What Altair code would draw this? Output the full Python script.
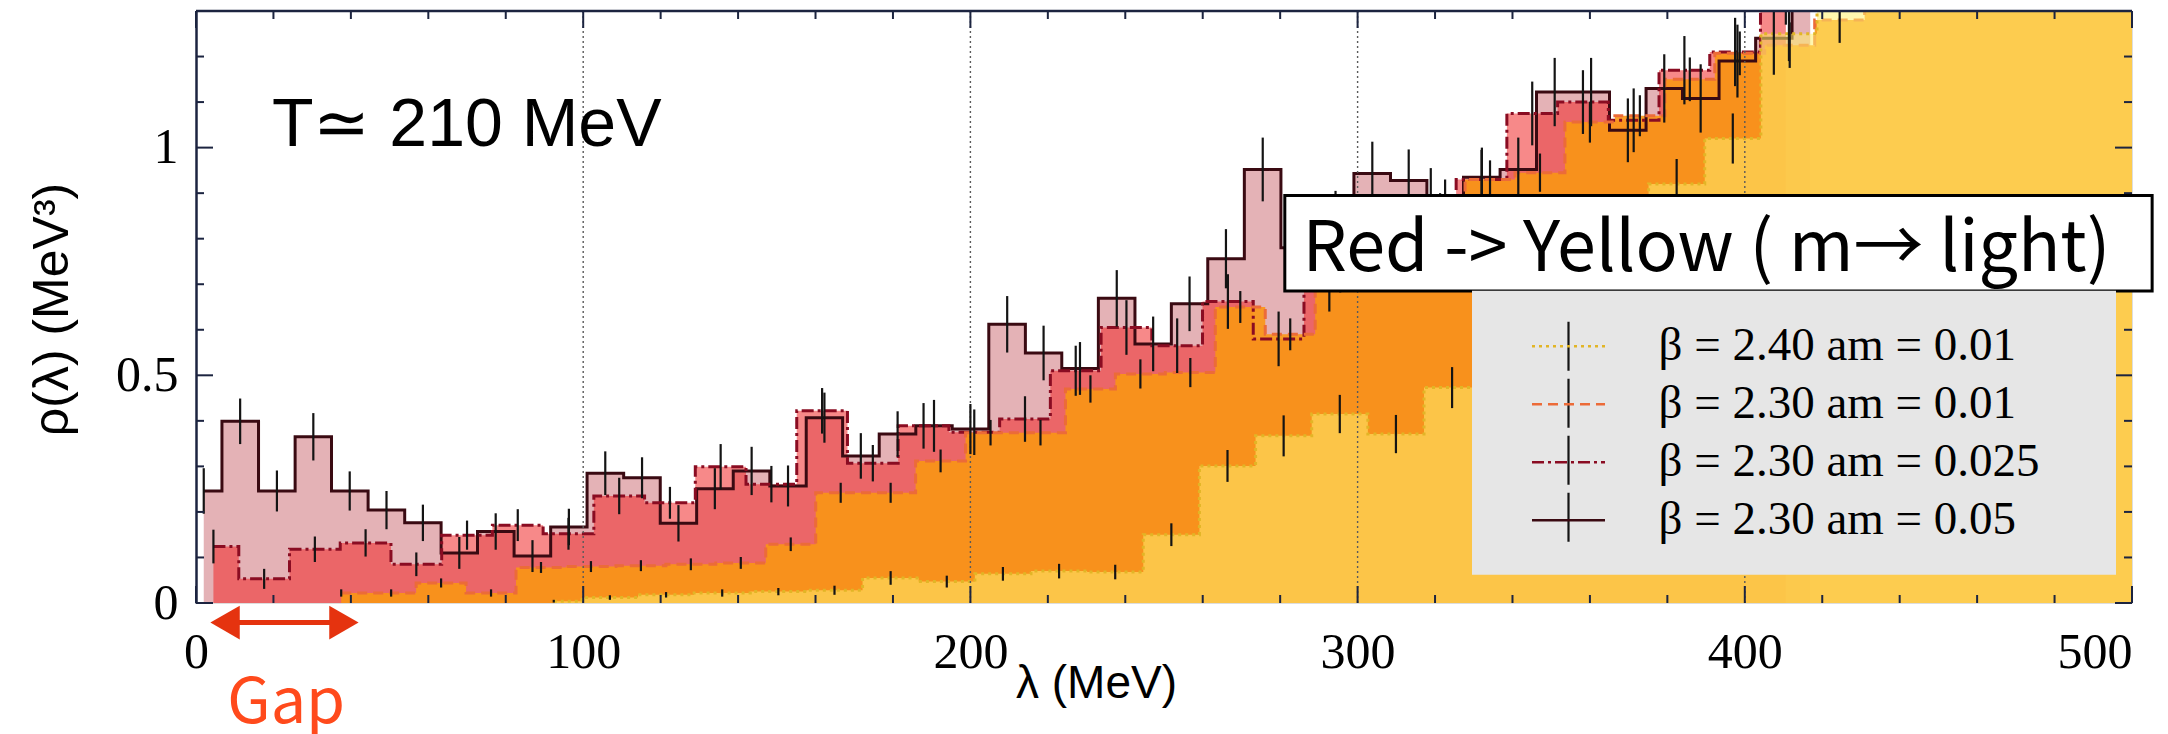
import altair as alt
import pandas as pd

# Eigenvalue density rho(lambda) at T ~ 210 MeV for four ensembles.
SERIES = [
    "β = 2.40 am = 0.01",
    "β = 2.30 am = 0.01",
    "β = 2.30 am = 0.025",
    "β = 2.30 am = 0.05",
]

# beta = 2.30, am = 0.05
PINK_X = [2.0, 11.4, 20.9, 30.3, 39.7, 49.2, 58.6, 68.0, 77.4, 86.9,
          96.3, 105.7, 115.2, 124.6, 134.0, 143.5, 152.9, 162.3, 171.7, 181.2,
          190.6, 200.0, 209.5, 218.9, 228.3, 237.8, 247.2, 256.6, 266.0, 275.5,
          284.9, 294.3, 303.8, 313.2, 322.6, 332.1, 341.5, 350.9, 360.3, 369.8,
          379.2, 388.6, 398.1, 407.5, 416.9]
PINK_RHO = [0.246, 0.399, 0.246, 0.365, 0.246, 0.204, 0.176, 0.110, 0.157, 0.103,
            0.167, 0.285, 0.275, 0.175, 0.251, 0.290, 0.257, 0.407, 0.323, 0.371,
            0.389, 0.382, 0.612, 0.549, 0.515, 0.669, 0.569, 0.657, 0.756, 0.952,
            0.780, 0.840, 0.943, 0.928, 0.870, 0.935, 0.952, 1.122, 1.122, 1.038,
            1.130, 1.108, 1.190, 1.240, 1.400]
PINK_ERR = [0.050, 0.050, 0.045, 0.052, 0.043, 0.042, 0.040, 0.035, 0.040, 0.035,
            0.040, 0.048, 0.045, 0.040, 0.045, 0.053, 0.045, 0.055, 0.050, 0.050,
            0.057, 0.055, 0.062, 0.060, 0.058, 0.062, 0.060, 0.060, 0.065, 0.070,
            0.065, 0.065, 0.070, 0.068, 0.060, 0.065, 0.070, 0.075, 0.075, 0.070,
            0.075, 0.075, 0.080, 0.080, 0.080]

# beta = 2.30, am = 0.025
RED_X = [4.5, 17.6, 30.7, 43.8, 56.9, 70.0, 83.1, 96.2, 109.3, 122.4,
         135.5, 148.6, 161.7, 174.8, 187.9, 201.0, 214.1, 227.2, 240.3, 253.4,
         266.5, 279.6, 292.7, 305.8, 318.9, 332.0, 345.1, 358.2, 371.3, 384.4,
         397.5, 410.6]
RED_RHO = [0.124, 0.053, 0.118, 0.132, 0.085, 0.149, 0.171, 0.152, 0.235, 0.220,
           0.299, 0.261, 0.422, 0.307, 0.389, 0.375, 0.404, 0.510, 0.605, 0.565,
           0.662, 0.580, 0.700, 0.750, 0.890, 0.930, 1.075, 1.100, 1.060, 1.170,
           1.210, 1.350]
RED_ERR = [0.037, 0.022, 0.028, 0.030, 0.026, 0.032, 0.035, 0.035, 0.040, 0.035,
           0.050, 0.040, 0.050, 0.040, 0.050, 0.050, 0.050, 0.055, 0.060, 0.060,
           0.060, 0.060, 0.060, 0.062, 0.065, 0.065, 0.070, 0.070, 0.070, 0.075,
           0.075, 0.080]

# beta = 2.30, am = 0.01
ORANGE_X = [37.5, 50.4, 63.3, 76.2, 89.1, 102.0, 114.9, 127.8, 140.7, 153.6,
            166.5, 179.4, 192.3, 205.2, 218.1, 231.0, 243.9, 256.8, 269.7, 282.6,
            295.5, 308.4, 321.3, 334.2, 347.1, 360.0, 372.9, 385.8, 398.7, 411.6,
            424.5, 437.4, 450.3, 463.2, 476.1, 489.0, 500.0]
ORANGE_RHO = [0.022, 0.022, 0.044, 0.022, 0.078, 0.080, 0.082, 0.085, 0.088, 0.129,
              0.242, 0.242, 0.312, 0.374, 0.374, 0.470, 0.503, 0.506, 0.650, 0.590,
              0.720, 0.800, 0.860, 0.930, 0.945, 1.056, 1.070, 1.150, 1.207, 1.225,
              1.280, 1.600, 1.600, 1.600, 1.600, 1.600, 1.600]
ORANGE_ERR = [0.008, 0.008, 0.010, 0.008, 0.012, 0.012, 0.012, 0.013, 0.013, 0.015,
              0.022, 0.022, 0.025, 0.028, 0.028, 0.030, 0.032, 0.032, 0.035, 0.035,
              0.038, 0.040, 0.040, 0.042, 0.042, 0.045, 0.045, 0.048, 0.048, 0.050,
              0.050, 0.050, 0.050, 0.050, 0.050, 0.050, 0.050]

# beta = 2.40, am = 0.01
YELLOW_X = [92.4, 106.9, 121.4, 135.9, 150.4, 164.9, 179.4, 193.9, 208.4, 222.9,
            237.4, 251.9, 266.4, 280.9, 295.4, 309.9, 324.4, 338.9, 353.4, 367.9,
            382.4, 396.9, 411.4, 425.9, 440.4, 454.9, 469.4, 483.9, 498.4, 500.0]
YELLOW_RHO = [0.004, 0.012, 0.018, 0.022, 0.025, 0.028, 0.055, 0.047, 0.064, 0.070,
              0.068, 0.150, 0.301, 0.367, 0.415, 0.371, 0.473, 0.600, 0.700, 0.800,
              0.920, 1.020, 1.250, 1.600, 1.600, 1.600, 1.600, 1.600, 1.600, 1.600]
YELLOW_ERR = [0.003, 0.005, 0.006, 0.008, 0.008, 0.010, 0.015, 0.013, 0.015, 0.016,
              0.016, 0.025, 0.035, 0.045, 0.042, 0.042, 0.045, 0.050, 0.050, 0.050,
              0.055, 0.055, 0.060, 0.060, 0.060, 0.060, 0.060, 0.060, 0.060, 0.060]

X_MAJOR = [0, 100, 200, 300, 400, 500]
X_MINOR = [20, 40, 60, 80, 120, 140, 160, 180, 220, 240, 260, 280,
           320, 340, 360, 380, 420, 440, 460, 480]
Y_MAJOR = [0, 0.5, 1.0]
Y_MINOR = [0.1, 0.2, 0.3, 0.4, 0.6, 0.7, 0.8, 0.9, 1.1, 1.2]
GRID_X = [100, 200, 300, 400]

# styles
LINE_COLORS = ["#e2b526", "#ec6b38", "#8a0c22", "#3a0a12"]
LINE_DASHES = [[3, 4], [10, 6], [12, 4, 3, 4], [1, 0]]
FILL = {
    SERIES[0]: ("#fff06e", 0.55),
    SERIES[1]: ("#fa9614", 0.90),
    SERIES[2]: ("#f02828", 0.55),
    SERIES[3]: ("#a5000c", 0.30),
}
W, H = 1936, 592
FRAME = "#1c2440"
SERIF = "Liberation Serif"
SANS = "Liberation Sans"

frames = []
for name, xs_, ys_, es_ in [
    (SERIES[3], PINK_X, PINK_RHO, PINK_ERR),
    (SERIES[2], RED_X, RED_RHO, RED_ERR),
    (SERIES[1], ORANGE_X, ORANGE_RHO, ORANGE_ERR),
    (SERIES[0], YELLOW_X, YELLOW_RHO, YELLOW_ERR),
]:
    frames.append(pd.DataFrame({"series": name, "lam": xs_, "rho": ys_, "err": es_}))
df = pd.concat(frames, ignore_index=True)
df["lo"] = df["rho"] - df["err"]
df["hi"] = df["rho"] + df["err"]

xscale = alt.Scale(domain=[0, 500], nice=False, zero=False)
yscale = alt.Scale(domain=[0, 1.3], nice=False, zero=False)

x_axis = alt.Axis(
    values=X_MAJOR, format="d", domain=False, ticks=False, tickSize=0, grid=False,
    labelFont=SERIF, labelFontSize=50, labelColor="black", labelPadding=24,
    labelBaseline="top", labelFlush=False, labelOverlap=False,
    labelAlign={"condition": {"test": "datum.value == 500", "value": "right"}, "value": "center"},
    title="λ (MeV)", titleFont=SANS, titleFontSize=46, titleFontWeight="normal",
    titleColor="black", titleX=900, titleY=80, titleBaseline="middle", titleAlign="center",
)
y_axis = alt.Axis(
    values=Y_MAJOR, format="~g", domain=True, domainColor=FRAME, domainWidth=2.5,
    ticks=False, tickSize=0, grid=False,
    labelFont=SERIF, labelFontSize=50, labelColor="black", labelPadding=18,
    labelFlush=False, labelOverlap=False, labelBaseline="middle",
    title="ρ(λ) (MeV³)", titleFont=SANS, titleFontSize=50, titleFontWeight="normal",
    titleColor="black", titleX=-144, titleY=298, titleAngle=-90,
    titleBaseline="middle", titleAlign="center",
)


def X(field):
    return alt.X(field, type="quantitative", scale=xscale, axis=x_axis)


def Y(field):
    return alt.Y(field, type="quantitative", scale=yscale, axis=y_axis)


base = alt.Chart(df)


def area(name):
    color, op = FILL[name]
    return base.transform_filter(alt.datum.series == name).mark_area(
        interpolate="step", color=color, fillOpacity=op, clip=True
    ).encode(x=X("lam"), y=Y("rho"))


# Two stacked legends with the same row pitch: the error-bar legend carries the
# grey panel and the vertical strokes, the line legend on top of it carries the
# dashed swatches and the visible labels.
COMMON = dict(
    orient="none", legendX=1276, title=None,
    labelFont=SERIF, labelFontSize=47, labelColor="black", labelLimit=900,
    symbolSize=2704, rowPadding=-3, symbolStrokeWidth=2.6,
)
line_legend = alt.Legend(
    legendY=285.75, padding=22, symbolOffset=47, labelOffset=62.5,
    symbolType="M-1.404,0H1.404M0,-0.942M0,0.942", zindex=2, **COMMON,
)
bar_legend = alt.Legend(
    legendY=279.75, padding=28, symbolOffset=41, labelOffset=110.5,
    fillColor="#e6e6e6", symbolType="M0,-0.942V0.942M-1.404,0M1.404,0",
    symbolStrokeColor="#141414", symbolFillColor="transparent",
    labelOpacity=0, zindex=1, **COMMON,
)

color_enc = alt.Color(
    "series:N", scale=alt.Scale(domain=SERIES, range=LINE_COLORS), legend=line_legend,
)
dash_enc = alt.StrokeDash(
    "series:N", scale=alt.Scale(domain=SERIES, range=LINE_DASHES), legend=line_legend,
)


def lines(names):
    return base.transform_filter(
        alt.FieldOneOfPredicate(field="series", oneOf=names)
    ).mark_line(interpolate="step", strokeWidth=3, clip=True).encode(
        x=X("lam"), y=Y("rho"), color=color_enc, strokeDash=dash_enc,
    )


errbars = base.mark_rule(color="#141414", clip=True).encode(
    x=X("lam"), y=Y("lo"), y2="hi",
    strokeWidth=alt.StrokeWidth(
        "series:O", scale=alt.Scale(range=[2.2, 2.2, 2.2, 2.2]), legend=bar_legend,
    ),
)

grid = alt.Chart(pd.DataFrame({"g": GRID_X})).mark_rule(
    color="#5a5a5a", strokeWidth=1.4, strokeDash=[2, 3]
).encode(x=X("g"))


def xticks(vals, length):
    d = alt.Chart(pd.DataFrame({"t": vals}))
    bottom = d.mark_rule(color=FRAME, strokeWidth=2).encode(
        x=X("t"), y=alt.value(H), y2=alt.value(H - length))
    top = d.mark_rule(color=FRAME, strokeWidth=2).encode(
        x=X("t"), y=alt.value(0), y2=alt.value(length))
    return [bottom, top]


def yticks(vals, length):
    d = alt.Chart(pd.DataFrame({"t": vals}))
    left = d.mark_rule(color=FRAME, strokeWidth=2).encode(
        y=Y("t"), x=alt.value(0), x2=alt.value(length))
    right = d.mark_rule(color=FRAME, strokeWidth=2).encode(
        y=Y("t"), x=alt.value(W), x2=alt.value(W - length))
    return [left, right]


one = alt.Chart(pd.DataFrame({"_": [0]}))
top_line = one.mark_rule(color=FRAME, strokeWidth=2.5).encode(
    x=alt.value(0), x2=alt.value(W), y=alt.value(0))

temp_text = one.mark_text(
    text="T≃ 210 MeV", font=SANS, fontSize=68, align="left", baseline="alphabetic", color="black"
).encode(x=alt.datum(19.6), y=alt.datum(1.003))

note_box = one.mark_rect(fill="white", stroke="black", strokeWidth=3).encode(
    x=alt.datum(281.2), x2=alt.datum(505.2), y=alt.datum(0.685), y2=alt.datum(0.895))
note_text = one.mark_text(
    text="Red -> Yellow ( m→ light)", font="Noto Sans CJK JP", fontSize=70,
    align="left", baseline="alphabetic", color="black",
).encode(x=alt.datum(285.8), y=alt.datum(0.730))

GAP_RED = "#e5330f"
gap_shaft = one.mark_rule(color=GAP_RED, strokeWidth=5).encode(
    x=alt.datum(6.0), x2=alt.datum(40.0), y=alt.datum(-0.043))
gap_left = one.mark_point(shape="triangle-left", filled=True, size=1150, color=GAP_RED, opacity=1).encode(
    x=alt.datum(7.5), y=alt.datum(-0.043))
gap_right = one.mark_point(shape="triangle-right", filled=True, size=1150, color=GAP_RED, opacity=1).encode(
    x=alt.datum(38.2), y=alt.datum(-0.043))
gap_text = one.mark_text(
    text="Gap", font="Noto Sans CJK JP", fontSize=63, align="center", baseline="alphabetic",
    color="#ff4a1c",
).encode(x=alt.datum(23.3), y=alt.datum(-0.2636))

layers = [
    area(SERIES[3]), area(SERIES[2]), area(SERIES[1]),
    lines([SERIES[3], SERIES[2], SERIES[1]]),
    area(SERIES[0]), lines([SERIES[0]]),
    grid, errbars,
] + xticks(X_MAJOR, 17) + xticks(X_MINOR, 8) + yticks(Y_MAJOR, 17) + yticks(Y_MINOR, 8) + [
    top_line, temp_text, note_box, note_text, gap_shaft, gap_left, gap_right, gap_text,
]

chart = alt.layer(*layers).properties(
    width=W, height=H,
    autosize=alt.AutoSizeParams(type="none"),
    padding={"left": 196, "top": 11, "right": 36, "bottom": 131},
).configure_view(stroke=None).configure(background="white")

chart.save("out.html", embed_options={"renderer": "svg", "actions": False})
